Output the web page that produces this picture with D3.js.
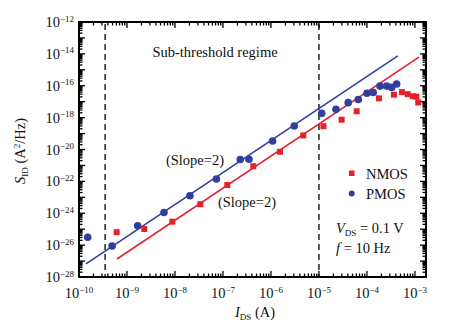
<!DOCTYPE html>
<html><head><meta charset="utf-8">
<script src="https://cdn.jsdelivr.net/npm/d3@7"></script>
<style>body{margin:0;background:#fff}svg{display:block}text{font-family:"Liberation Serif","Times New Roman",serif;fill:#111}</style>
</head><body><svg id="c" width="456" height="331"></svg>
<script>
// ---- data ----
const xTickExps = [-10,-9,-8,-7,-6,-5,-4,-3];
const yTickExps = [-12,-14,-16,-18,-20,-22,-24,-26,-28];
const nmosI = [6.1e-10,2.29e-9,8.8e-9,3.37e-8,1.23e-7,4.28e-7,1.54e-6,4.71e-6,1.24e-5,2.97e-5,6.1e-5,1.78e-4,3.65e-4,5.36e-4,7.08e-4,9.1e-4,1.07e-3,1.17e-3];
const nmosS = [6.5e-26,1.02e-25,2.95e-25,3.7e-24,5.9e-23,8.9e-22,7.2e-21,7.6e-20,2.9e-19,7.4e-19,2.5e-18,1.62e-17,2.76e-17,4.0e-17,2.96e-17,2.2e-17,2.05e-17,8.9e-18];
const pmosI = [1.52e-10,4.9e-10,1.67e-9,5.9e-9,2.05e-8,7.3e-8,2.29e-7,3.48e-7,1.08e-6,3.05e-6,1.14e-5,2.26e-5,4.07e-5,6.6e-5,1.0e-4,1.35e-4,1.87e-4,2.57e-4,3.27e-4,4.16e-4];
const pmosS = [3.1e-26,8.9e-27,1.66e-25,1.12e-24,1.26e-23,1.41e-22,2.34e-21,2.44e-21,3.4e-20,3.0e-19,1.86e-18,3.3e-18,8.7e-18,1.38e-17,3.4e-17,3.8e-17,9.5e-17,9.5e-17,7.9e-17,1.29e-16];
const nmosFitI = [6.2e-10,1.21e-3];
const nmosFitS = [1.35e-27,6.3e-15];
const pmosFitI = [1.4e-10,4.4e-4];
const pmosFitS = [6.6e-28,7.4e-15];
const regimeBounds = [3.5e-10,1e-5];
const seriesNames = ["NMOS","PMOS"];
const colors = {NMOS:"#e8202a",PMOS:"#2f3f9e"};

// ---- layout ----
const L=79,R=426,T=22,B=277;
const FS=14.5, SS=9;
const svg=d3.select("#c");
const x=d3.scaleLog().domain([1e-10,1.7e-3]).range([L,R]);
const y=d3.scaleLog().domain([1e-28,1e-12]).range([B,T]);

// ticks (inside on all sides)
const g=svg.append("g").attr("stroke","#000");
function ticksFor(scale,lo,hi){const out=[];for(let e=lo;e<=hi;e++){for(let m=1;m<=9;m++){const v=m*Math.pow(10,e);const d=scale.domain();if(v>=d[0]*0.9999&&v<=d[1]*1.0001)out.push({v,major:m===1});}}return out;}
ticksFor(x,-10,-3).forEach(t=>{const px=x(t.v);const len=t.major?6:3.5;
  g.append("line").attr("x1",px).attr("x2",px).attr("y1",B).attr("y2",B-len).attr("stroke-width",1.3);
  g.append("line").attr("x1",px).attr("x2",px).attr("y1",T).attr("y2",T+len).attr("stroke-width",1.3);});
ticksFor(y,-28,-12).forEach(t=>{const py=y(t.v);const len=t.major?6:3.5;
  g.append("line").attr("x1",L).attr("x2",L+len).attr("y1",py).attr("y2",py).attr("stroke-width",1.3);
  g.append("line").attr("x1",R).attr("x2",R-len).attr("y1",py).attr("y2",py).attr("stroke-width",1.3);});
svg.append("rect").attr("x",L).attr("y",T).attr("width",R-L).attr("height",B-T).attr("fill","none").attr("stroke","#000").attr("stroke-width",2);

// tick labels
xTickExps.forEach(e=>{const t=svg.append("text").attr("x",x(Math.pow(10,e))).attr("y",298).attr("text-anchor","middle").attr("font-size",FS);
  t.append("tspan").text("10");t.append("tspan").attr("dy",-5.5).attr("font-size",SS).text("\u2212"+(-e));});
yTickExps.forEach(e=>{const t=svg.append("text").attr("x",74).attr("y",y(Math.pow(10,e))+5).attr("text-anchor","end").attr("font-size",FS);
  t.append("tspan").text("10");t.append("tspan").attr("dy",-5.5).attr("font-size",SS).text("\u2212"+(-e));});

// axis titles
const xt=svg.append("text").attr("x",255).attr("y",317).attr("text-anchor","middle").attr("font-size",FS);
xt.append("tspan").attr("font-style","italic").text("I");
xt.append("tspan").attr("dy",3).attr("font-size",SS).text("DS");
xt.append("tspan").attr("dy",-3).text(" (A)");
const yt=svg.append("text").attr("transform","translate(25,151) rotate(-90)").attr("text-anchor","middle").attr("font-size",FS);
yt.append("tspan").attr("font-style","italic").text("S");
yt.append("tspan").attr("dy",3).attr("font-size",SS).text("ID");
yt.append("tspan").attr("dy",-3).text(" (A");
yt.append("tspan").attr("dy",-5).attr("font-size",SS).text("2");
yt.append("tspan").attr("dy",5).text("/Hz)");

// dashed regime lines
regimeBounds.forEach(v=>svg.append("line").attr("x1",x(v)).attr("x2",x(v)).attr("y1",T+2).attr("y2",B-1).attr("stroke","#000").attr("stroke-width",1.3).attr("stroke-dasharray","6,4"));

// fit lines
const line=d3.line().x(d=>x(d[0])).y(d=>y(d[1]));
svg.append("path").datum(d3.zip(nmosFitI,nmosFitS)).attr("d",line).attr("stroke",colors.NMOS).attr("stroke-width",1.6).attr("fill","none");
svg.append("path").datum(d3.zip(pmosFitI,pmosFitS)).attr("d",line).attr("stroke",colors.PMOS).attr("stroke-width",1.6).attr("fill","none");

// points
const sq=6;
svg.append("g").selectAll("rect").data(d3.zip(nmosI,nmosS)).join("rect")
  .attr("x",d=>x(d[0])-sq/2).attr("y",d=>y(d[1])-sq/2).attr("width",sq).attr("height",sq).attr("fill",colors.NMOS);
svg.append("g").selectAll("circle").data(d3.zip(pmosI,pmosS)).join("circle")
  .attr("cx",d=>x(d[0])).attr("cy",d=>y(d[1])).attr("r",3.8).attr("fill",colors.PMOS);

// annotations
svg.append("text").attr("x",215).attr("y",57).attr("text-anchor","middle").attr("font-size",FS).text("Sub-threshold regime");
svg.append("text").attr("x",195).attr("y",165).attr("text-anchor","middle").attr("font-size",FS).text("(Slope=2)");
svg.append("text").attr("x",247).attr("y",207).attr("text-anchor","middle").attr("font-size",FS).text("(Slope=2)");

// legend
svg.append("rect").attr("x",349).attr("y",170.5).attr("width",5.5).attr("height",5.5).attr("fill",colors.NMOS);
svg.append("text").attr("x",366).attr("y",178.5).attr("font-size",FS).text(seriesNames[0]);
svg.append("circle").attr("cx",351.7).attr("cy",193.5).attr("r",3).attr("fill",colors.PMOS);
svg.append("text").attr("x",366).attr("y",198.5).attr("font-size",FS).text(seriesNames[1]);
const v=svg.append("text").attr("x",336).attr("y",233).attr("font-size",FS);
v.append("tspan").attr("font-style","italic").text("V");
v.append("tspan").attr("dy",3).attr("font-size",SS).text("DS");
v.append("tspan").attr("dy",-3).text(" = 0.1 V");
const f=svg.append("text").attr("x",336).attr("y",253).attr("font-size",FS);
f.append("tspan").attr("font-style","italic").text("f");
f.append("tspan").text(" = 10 Hz");
</script></body></html>
